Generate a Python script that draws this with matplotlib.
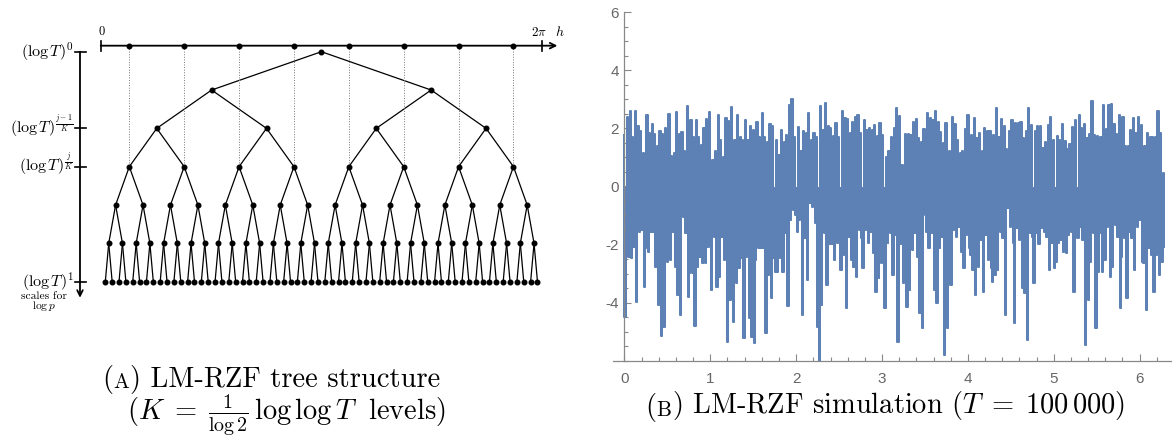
import numpy as np
import matplotlib
matplotlib.use("Agg")
import matplotlib.pyplot as plt

#_____________________________________________________________________________
# (a) tree structure
n_levels = 7
level_ticks = [0, 2, 3, 6]
level_labels = [r"$(\log T)^0$", r"$(\log T)^{\frac{j-1}{K}}$",
                r"$(\log T)^{\frac{j}{K}}$", r"$(\log T)^1$"]
dotted_level = 3

# (b) simulation, upper and lower spikes
sim_top = [1.78, 2.41, 2.59, 1.72, 2.59, 2.09, 1.92, 1.17, 2.47, 1.86, 2.15, 1.80, 1.38, 1.92, 1.80,
           2.01, 2.49, 1.06, 1.15, 2.56, 1.80, 1.87, 1.23, 2.78, 2.30, 1.69, 2.30, 1.69, 1.43, 2.03,
           2.33, 2.56, 0.92, 1.21, 2.45, 1.61, 1.01, 2.36, 2.26, 2.74, 1.61, 2.47, 1.69, 1.61, 2.30,
           1.61, 2.07, 1.95, 2.22, 1.72, 2.53, 1.72, 1.55, 2.15, 2.07, 1.61, 1.09, 1.95, 1.55, 1.78,
           2.82, 3.03, 1.70, 2.05, 1.21, 1.92, 1.84, 2.53, 1.61, 1.84, 1.72, 2.78, 1.95, 2.87, 2.09,
           2.03, 1.75, 2.18, 1.72, 2.61, 2.36, 2.33, 1.84, 2.24, 2.41, 2.47, 1.84, 2.30, 1.95, 2.03,
           1.95, 2.11, 1.75, 2.18,
           1.78, 1.03, 1.21, 1.70, 2.01, 2.72, 2.44, 0.75, 1.82, 1.82, 1.78, 2.21, 2.32, 1.67, 1.55,
           1.98, 2.53, 2.36, 2.28, 2.61, 2.23, 1.89, 1.49, 2.18, 1.21, 2.41, 2.15, 1.61, 1.15, 1.21,
           1.98, 2.45, 1.78, 2.36, 1.67, 1.84, 1.23, 2.01, 1.90, 1.92, 1.78, 2.72, 1.72, 2.33, 2.07,
           1.29, 1.92, 2.28, 2.18, 2.18, 2.24, 1.67, 1.92, 2.70, 2.13, 1.90, 2.09, 2.07, 1.32, 1.55,
           2.13, 2.39, 1.61, 1.75, 1.61, 2.15, 1.57, 1.30, 1.47, 2.05, 2.30, 2.46, 2.01, 2.15, 1.67,
           1.80, 2.95, 1.78, 1.75, 1.70, 2.82, 1.99, 2.82, 2.85, 2.15, 1.80, 2.47, 2.41, 1.38, 1.38,
           1.95, 2.36, 1.84, 2.39, 2.13, 1.40, 1.84, 1.72, 1.69, 1.70, 2.61, 1.84, 0.46]
sim_bottom = [-4.49, -1.73, -2.42, -2.48, -2.07, -3.97, -1.56, -1.50, -3.45, -2.13, -2.25, -1.56,
              -1.56, -2.76, -4.09, -5.15, -4.83, -2.48, -2.59, -2.53, -1.56, -2.76, -3.74, -4.43,
              -1.04, -1.61, -3.80, -2.99, -2.99, -4.81, -2.76, -2.42, -2.65, -2.65, -2.07, -1.84,
              -3.57, -1.73, -3.48, -3.11, -1.73, -2.53, -5.35, -3.91, -2.05, -4.66, -3.34, -2.82,
              -2.48, -5.24, -2.42, -4.55, -5.18, -5.41, -2.53, -2.13, -2.13, -2.13, -5.06, -3.05,
              -3.86, -2.48, -2.94, -2.94, -2.48, -2.94, -1.61, -4.12, -1.15, -0.81, -0.98, -1.56,
              -1.15, -4.43, -1.79, -3.22, -0.58, -0.70, -1.27, -4.83, -6.04, -4.09, -1.61, -3.40,
              -1.99, -1.99, -2.53, -1.96, -1.50, -2.88, -2.36, -4.20, -1.73, -2.53, -2.76, -3.11,
              -1.50, -1.79, -2.82, -1.50, -1.96, -1.56, -2.30, -3.63, -3.17, -2.65, -1.56, -4.20,
              -1.96, -1.61,
              -3.05, -1.67, -5.35, -1.99, -3.34, -2.82, -4.14, -3.57, -2.19, -1.61, -2.42, -4.37,
              -4.89, -0.98, -1.56, -2.13, -1.61, -3.57, -4.03, -2.13, -1.73, -5.81, -4.89, -2.94,
              -3.40, -1.50, -1.73, -1.38, -2.25, -2.82, -1.67, -2.13, -2.36, -2.88, -3.74, -2.76,
              -1.84, -3.63, -1.67, -2.53, -2.82, -3.28, -3.05, -2.88, -1.56, -1.79, -4.43, -0.75,
              -1.38, -1.96, -4.72, -1.44, -1.84, -3.51, -3.68, -5.29, -1.61, -1.73, -3.34, -1.61,
              -1.99, -1.44, -1.56, -1.73, -2.88, -1.96, -2.82, -2.59, -1.96, -1.84, -2.25, -2.30,
              -1.67, -1.56, -3.63, -1.61, -1.79, -1.38, -1.84, -5.47, -3.91, -2.59, -1.61, -4.89,
              -2.94, -1.61, -2.94, -2.53, -1.38, -3.11, -2.76, -1.33, -1.73, -4.20, -2.42, -1.79,
              -3.86, -1.56, -1.79, -2.88, -1.38, -1.15, -2.59, -2.65, -4.26, -2.13, -2.36, -3.63,
              -2.36, -3.05, -2.59, -2.07]
x_ticks = [0, 1, 2, 3, 4, 5, 6]
y_ticks = [-4, -2, 0, 2, 4, 6]

W, H = 1172, 436

#_____________________________________________________________________________
def main():

    plt.rcParams["font.family"] = "cmr10"
    plt.rcParams["mathtext.fontset"] = "cm"
    plt.rcParams["axes.unicode_minus"] = False

    fig = plt.figure(figsize=(W/100., H/100.), dpi=100)
    fig.patch.set_facecolor("white")

    #overlay in pixel units for the captions
    cap = fig.add_axes([0, 0, 1, 1])
    cap.set_xlim(0, W)
    cap.set_ylim(H, 0)
    cap.axis("off")

    ax_tree = fig.add_axes([0, 0, 0.5, 1])
    draw_tree(ax_tree)

    ax_sim = fig.add_axes([613./W, (H-360.5)/H, (W-613.)/W, 348./H])
    draw_sim(ax_sim)

    caption(cap, 102, 387, "A", "LM-RZF tree structure")
    cap.text(286, 419, r"($K\;=\;\frac{1}{\log 2}\,\log\log T\;$ levels)", fontsize=20.5,
             ha="center", va="baseline")
    caption(cap, 645, 415, "B", r"LM-RZF simulation ($T\;=\;100\,000$)")

    fig.savefig("out.png", dpi=100)

#main

#_____________________________________________________________________________
def tree_nodes(nlev):

    #leaves evenly spaced, every parent in the middle of its children
    nodes = [np.arange(2**(nlev-1), dtype=float)]
    for i in range(nlev-1):
        ch = nodes[0]
        nodes.insert(0, 0.5*(ch[0::2] + ch[1::2]))
    return nodes

#tree_nodes

#_____________________________________________________________________________
def draw_tree(ax):

    #leaf index horizontally, level vertically (pixel scale of the reference)
    ax.set_xlim(-105.3/6.86, (586-105.3)/6.86)
    ax.set_ylim((436-51.7)/38.33, -51.7/38.33)
    ax.axis("off")

    nodes = tree_nodes(n_levels)
    col = "black"

    #edges
    for lev in range(n_levels-1):
        for j, xp in enumerate(nodes[lev]):
            for k in (2*j, 2*j+1):
                ax.plot([xp, nodes[lev+1][k]], [lev, lev+1], "-", color=col, lw=0.9)

    #nodes
    for lev in range(n_levels):
        ax.plot(nodes[lev], np.full(len(nodes[lev]), lev), "o", color=col, ms=3.3, zorder=3)

    #top h axis
    ytop = -0.157
    h0, h2pi, hend = -0.67, 63.6, 65.9
    ax.annotate("", xy=(hend, ytop), xytext=(h0, ytop),
                arrowprops=dict(arrowstyle="->", lw=1.3, color=col, shrinkA=0, shrinkB=0))
    for xv in (h0, h2pi):
        ax.plot([xv, xv], [ytop-0.13, ytop+0.13], "-", color=col, lw=1.2)
    ax.text(h0+0.2, ytop-0.28, "0", fontsize=9, ha="center", va="baseline")
    ax.text(h2pi-0.4, ytop-0.25, r"$2\pi$", fontsize=9.5, ha="center", va="baseline")
    ax.text(h2pi+2.7, ytop-0.25, r"$h$", fontsize=10, ha="center", va="baseline")

    #marked nodes projected on the h axis
    xm = nodes[dotted_level]
    ax.plot(xm, np.full(len(xm), ytop), "o", color=col, ms=3.3, zorder=3)
    for xv in xm:
        ax.plot([xv, xv], [ytop, dotted_level], ":", color="#777777", lw=0.7)

    #vertical scale axis
    xv = -3.69
    ax.annotate("", xy=(xv, 6.42), xytext=(xv, 0),
                arrowprops=dict(arrowstyle="->", lw=1.3, color=col, shrinkA=0, shrinkB=0))
    for lev, lab in zip(level_ticks, level_labels):
        ax.plot([xv-0.75, xv+0.85], [lev, lev], "-", color=col, lw=1.2)
        ax.text(xv-0.95, lev+0.13, lab, fontsize=11.5, ha="right", va="baseline")

    ax.text(-9.0, 6.46, "scales for", fontsize=8.3, ha="center", va="baseline")
    ax.text(-9.0, 6.72, r"$\log p$", fontsize=8.3, ha="center", va="baseline")

#draw_tree

#_____________________________________________________________________________
def draw_sim(ax):

    gray = "#888888"
    blue = "#5E81B5"

    #merge upper and lower spikes into one trace
    xt = np.linspace(0, 2*np.pi, len(sim_top))
    xb = np.linspace(0, 2*np.pi, len(sim_bottom))
    x = np.concatenate([xt, xb])
    y = np.concatenate([sim_top, sim_bottom])
    idx = np.argsort(x, kind="stable")
    x, y = x[idx], y[idx]
    ax.fill_between(x, y, 0, step="mid", color=blue, lw=0)
    ax.plot(x, y, "-", color=blue, lw=1.45, drawstyle="steps-mid")

    ax.set_xlim(-11.5/86., (W-623.5)/86.)
    ax.set_ylim(-6, 6)
    ax.set_facecolor("none")

    ax.spines["top"].set_visible(False)
    ax.spines["right"].set_visible(False)
    ax.spines["left"].set_position(("data", 0))
    for s in ("left", "bottom"):
        ax.spines[s].set_color(gray)
        ax.spines[s].set_linewidth(0.9)
        ax.spines[s].set_zorder(3)

    ax.set_xticks(x_ticks)
    ax.set_yticks(y_ticks)
    ax.set_xticks(np.arange(0, 6.3, 0.2), minor=True)
    ax.set_yticks(np.arange(-6, 6.01, 0.5), minor=True)
    ax.tick_params(which="both", direction="in", color=gray, width=0.8,
                   labelcolor="#666666", labelfontfamily="Liberation Sans", labelsize=11)
    ax.tick_params(which="major", length=5)
    ax.tick_params(which="minor", length=2.8)
    ax.tick_params(axis="y", pad=4)
    ax.tick_params(axis="x", pad=8)

#draw_sim

#_____________________________________________________________________________
def caption(ax, x, y, tag, rest, fs=20.5):

    #"(A) ..." with a small-caps letter
    t1 = ax.text(x, y, "(", fontsize=fs, ha="left", va="baseline")
    t2 = ax.annotate(tag, xy=(1, 0), xycoords=t1, xytext=(0.4, 1.1), textcoords="offset points",
                     fontsize=fs*0.74, ha="left", va="bottom", annotation_clip=False)
    ax.annotate(") " + rest, xy=(1, 0), xycoords=t2, xytext=(0.4, -1.1), textcoords="offset points",
                fontsize=fs, ha="left", va="bottom", annotation_clip=False)

#caption

#_____________________________________________________________________________
if __name__ == "__main__":

    main()
